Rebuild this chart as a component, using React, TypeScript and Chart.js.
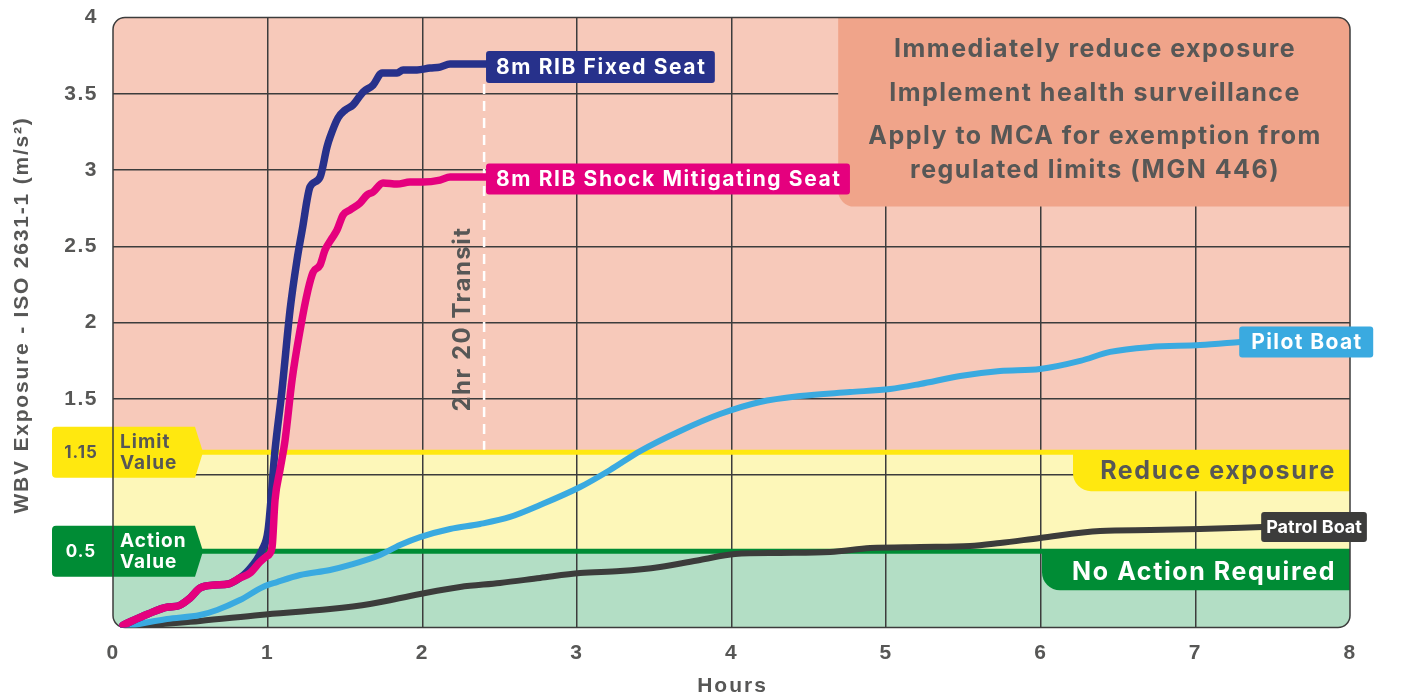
import React, { useEffect, useRef } from 'react';
import { Chart, registerables } from 'chart.js';

Chart.register(...registerables);

// ---------- data ----------
const xTicks = [0, 1, 2, 3, 4, 5, 6, 7, 8];
const yTickLabels = ['1.5', '2', '2.5', '3', '3.5', '4'];

const LIMIT_VALUE = 1.15;
const ACTION_VALUE = 0.5;
const TRANSIT_HOURS = 2.4;

const shockSeatHours = [0.065, 0.226, 0.356, 0.42, 0.498, 0.563, 0.66, 0.744, 0.821, 0.886, 0.951, 0.996, 1.028, 1.048, 1.08, 1.113, 1.158, 1.21, 1.261, 1.294, 1.339, 1.371, 1.417, 1.449, 1.488, 1.533, 1.598, 1.643, 1.682, 1.746, 1.837, 1.921, 2.005, 2.115, 2.18, 2.419];
const shockSeatExposure = [0.016, 0.089, 0.134, 0.141, 0.193, 0.259, 0.279, 0.285, 0.325, 0.357, 0.43, 0.469, 0.521, 0.836, 1.033, 1.23, 1.623, 1.95, 2.213, 2.33, 2.377, 2.475, 2.554, 2.607, 2.705, 2.738, 2.784, 2.836, 2.856, 2.915, 2.908, 2.921, 2.921, 2.934, 2.954, 2.954];

const fixedSeatHours = [0.065, 0.226, 0.356, 0.42, 0.498, 0.563, 0.66, 0.744, 0.821, 0.866, 0.964, 1.003, 1.048, 1.093, 1.145, 1.19, 1.229, 1.255, 1.274, 1.339, 1.384, 1.404, 1.455, 1.501, 1.552, 1.617, 1.682, 1.74, 1.837, 1.876, 1.966, 2.05, 2.115, 2.18, 2.419];
const fixedSeatExposure = [0.016, 0.089, 0.134, 0.141, 0.193, 0.259, 0.279, 0.285, 0.325, 0.364, 0.508, 0.639, 1.164, 1.557, 2.082, 2.41, 2.639, 2.803, 2.889, 2.954, 3.151, 3.216, 3.341, 3.393, 3.426, 3.511, 3.557, 3.636, 3.636, 3.656, 3.656, 3.669, 3.675, 3.695, 3.695];

const pilotHours = [0.065, 0.349, 0.563, 0.673, 0.821, 0.97, 1.061, 1.21, 1.404, 1.533, 1.727, 1.856, 1.986, 2.18, 2.374, 2.568, 2.762, 3.021, 3.215, 3.409, 3.668, 3.926, 4.185, 4.444, 4.767, 5.026, 5.22, 5.479, 5.737, 5.996, 6.255, 6.449, 6.708, 7.031, 7.29];
const pilotExposure = [0.003, 0.056, 0.082, 0.115, 0.18, 0.266, 0.298, 0.344, 0.377, 0.41, 0.475, 0.541, 0.593, 0.646, 0.679, 0.725, 0.803, 0.921, 1.033, 1.157, 1.289, 1.4, 1.479, 1.518, 1.544, 1.564, 1.597, 1.649, 1.682, 1.695, 1.748, 1.807, 1.839, 1.852, 1.872];

const patrolHours = [0.065, 0.563, 0.951, 1.404, 1.662, 1.986, 2.245, 2.503, 2.762, 3.021, 3.28, 3.538, 3.797, 4.023, 4.314, 4.638, 4.897, 5.22, 5.543, 5.737, 5.996, 6.384, 6.708, 7.031, 7.432];
const patrolExposure = [0.003, 0.043, 0.082, 0.121, 0.154, 0.22, 0.266, 0.292, 0.325, 0.357, 0.37, 0.397, 0.443, 0.482, 0.489, 0.495, 0.521, 0.528, 0.534, 0.554, 0.587, 0.633, 0.639, 0.646, 0.659];

const seriesNames = ['8m RIB Shock Mitigating Seat', '8m RIB Fixed Seat', 'Pilot Boat', 'Patrol Boat'];

const boxLines = ['Immediately reduce exposure', 'Implement health surveillance', 'Apply to MCA for exemption from', 'regulated limits (MGN 446)'];

// ---------- styles ----------
const GRAY = '#575756';
const PINK_BAND = '#F7C9BA';
const YELLOW_BAND = '#FDF7B9';
const GREEN_BAND = '#B3DEC5';
const BOX = '#F0A48A';
const YELLOW = '#FFE80F';
const GREEN = '#008C35';
const NAVY = '#27318B';
const MAGENTA = '#E5007E';
const BLUE = '#3AAAE0';
const DARK = '#3C3C3B';
const LABEL_FONT = 'Inter, "Noto Sans", sans-serif';
const AXIS_FONT = '"Liberation Sans", Arial, sans-serif';

const toPoints = (xs: number[], ys: number[]) => xs.map((x, i) => ({ x, y: ys[i] }));

const seriesStyle = [
  { color: MAGENTA, width: 7.5, fontSize: 21, padX: 10, h: 31, ls: 1.6, dy: 2 },
  { color: NAVY, width: 7.5, fontSize: 21, padX: 10, h: 32, ls: 1.6, dy: 3 },
  { color: BLUE, width: 6, fontSize: 21, padX: 12, h: 31, ls: 1.4, dy: 0 },
  { color: DARK, width: 6, fontSize: 18, padX: 5, h: 30, ls: 0, dy: 0 },
];

const decorPlugin = {
  id: 'decor',
  beforeDraw(chart: any) {
    const { ctx, chartArea } = chart;
    // tracking applied to the library's own tick labels too
    ctx.letterSpacing = '1.5px';
    const { left, right, top, bottom } = chartArea;
    const y = chart.scales.y;
    const yL = y.getPixelForValue(LIMIT_VALUE);
    const yA = y.getPixelForValue(ACTION_VALUE);
    ctx.save();
    ctx.beginPath();
    ctx.roundRect(left, top, right - left, bottom - top, 12);
    ctx.clip();
    ctx.fillStyle = PINK_BAND;
    ctx.fillRect(left, top, right - left, yL - top);
    ctx.fillStyle = YELLOW_BAND;
    ctx.fillRect(left, yL, right - left, yA - yL);
    ctx.fillStyle = GREEN_BAND;
    ctx.fillRect(left, yA, right - left, bottom - yA);
    ctx.restore();
  },
  beforeDatasetsDraw(chart: any) {
    const { ctx, chartArea } = chart;
    const { left, right, top, bottom } = chartArea;
    const x = chart.scales.x;
    const y = chart.scales.y;
    const yL = y.getPixelForValue(LIMIT_VALUE);
    const yA = y.getPixelForValue(ACTION_VALUE);
    ctx.save();

    // top-right advice box
    const bx = x.getPixelForValue(4.69);
    const by = y.getPixelForValue(2.76);
    ctx.fillStyle = BOX;
    ctx.beginPath();
    ctx.roundRect(bx, top, right - bx, by - top, [0, 12, 0, 16]);
    ctx.fill();
    ctx.fillStyle = GRAY;
    ctx.font = `bold 25px ${LABEL_FONT}`;
    ctx.letterSpacing = '1.5px';
    ctx.textAlign = 'center';
    ctx.textBaseline = 'middle';
    const cx = (bx + right) / 2 + 1;
    const lineYs = [49, 93, 136, 170];
    boxLines.forEach((t, i) => ctx.fillText(t, cx, lineYs[i]));

    // threshold lines
    ctx.lineWidth = 5;
    ctx.strokeStyle = YELLOW;
    ctx.beginPath();
    ctx.moveTo(200, yL);
    ctx.lineTo(right, yL);
    ctx.stroke();
    ctx.strokeStyle = GREEN;
    ctx.beginPath();
    ctx.moveTo(200, yA);
    ctx.lineTo(right, yA);
    ctx.stroke();

    // right badges
    ctx.fillStyle = YELLOW;
    ctx.beginPath();
    ctx.roundRect(1073, yL - 2, right - 1073, 41, [0, 0, 0, 18]);
    ctx.fill();
    ctx.fillStyle = GREEN;
    ctx.beginPath();
    ctx.roundRect(1042, yA - 2, right - 1042, 41, [0, 0, 0, 18]);
    ctx.fill();
    ctx.font = `bold 25px ${LABEL_FONT}`;
    ctx.letterSpacing = '1.6px';
    ctx.textAlign = 'right';
    ctx.fillStyle = GRAY;
    ctx.fillText('Reduce exposure', 1336, yL + 19);
    ctx.fillStyle = '#ffffff';
    ctx.fillText('No Action Required', 1336, yA + 21);

    // left badges
    const badge = (cy: number, fill: string, txt: string, l1: string, l2: string, tc: string) => {
      ctx.fillStyle = fill;
      ctx.beginPath();
      ctx.moveTo(56, cy - 25.5);
      ctx.lineTo(195, cy - 25.5);
      ctx.lineTo(203, cy);
      ctx.lineTo(195, cy + 25.5);
      ctx.lineTo(56, cy + 25.5);
      ctx.quadraticCurveTo(52, cy + 25.5, 52, cy + 21.5);
      ctx.lineTo(52, cy - 21.5);
      ctx.quadraticCurveTo(52, cy - 25.5, 56, cy - 25.5);
      ctx.fill();
      ctx.fillStyle = tc;
      ctx.letterSpacing = '1px';
      ctx.textAlign = 'center';
      ctx.font = `bold 17px ${LABEL_FONT}`;
      ctx.fillText(txt, 81, cy + 1);
      ctx.textAlign = 'left';
      ctx.font = `bold 19px ${LABEL_FONT}`;
      ctx.fillText(l1, 120, cy - 10);
      ctx.fillText(l2, 120, cy + 11);
    };
    badge(yL, YELLOW, '1.15', 'Limit', 'Value', GRAY);
    badge(yA, GREEN, '0.5', 'Action', 'Value', '#ffffff');

    // transit marker
    const tx = x.getPixelForValue(TRANSIT_HOURS);
    ctx.strokeStyle = '#ffffff';
    ctx.lineWidth = 2.5;
    ctx.setLineDash([10, 7]);
    ctx.beginPath();
    ctx.moveTo(tx, 84);
    ctx.lineTo(tx, yL - 2.5);
    ctx.stroke();
    ctx.setLineDash([]);
    ctx.save();
    ctx.translate(463, 319);
    ctx.rotate(-Math.PI / 2);
    ctx.fillStyle = GRAY;
    ctx.font = `bold 24px ${LABEL_FONT}`;
    ctx.letterSpacing = '1.5px';
    ctx.textAlign = 'center';
    ctx.textBaseline = 'middle';
    ctx.fillText('2hr 20 Transit', 0, 0);
    ctx.restore();

    // plot border
    ctx.strokeStyle = '#3c3c3c';
    ctx.lineWidth = 1.5;
    ctx.beginPath();
    ctx.roundRect(left, top, right - left, bottom - top, 12);
    ctx.stroke();

    // axis titles
    ctx.fillStyle = GRAY;
    ctx.textAlign = 'center';
    ctx.textBaseline = 'middle';
    ctx.font = `bold 21px ${AXIS_FONT}`;
    ctx.letterSpacing = '2px';
    ctx.fillText('Hours', (left + right) / 2 + 1, 686);
    ctx.save();
    ctx.translate(22, 315);
    ctx.rotate(-Math.PI / 2);
    ctx.font = `bold 21px ${AXIS_FONT}`;
    ctx.letterSpacing = '1.8px';
    ctx.fillText('WBV Exposure - ISO 2631-1 (m/s²)', 0, 0);
    ctx.restore();

    ctx.restore();
  },
  afterDatasetsDraw(chart: any) {
    const { ctx } = chart;
    ctx.save();
    chart.data.datasets.forEach((ds: any, i: number) => {
      const st = seriesStyle[i];
      const last = ds.data[ds.data.length - 1];
      const px = chart.scales.x.getPixelForValue(last.x);
      const py = chart.scales.y.getPixelForValue(last.y) + st.dy;
      ctx.font = `bold ${st.fontSize}px ${LABEL_FONT}`;
      ctx.letterSpacing = `${st.ls}px`;
      const w = ctx.measureText(ds.label).width - st.ls + st.padX * 2;
      ctx.fillStyle = st.color;
      ctx.beginPath();
      ctx.roundRect(px - 1, py - st.h / 2, w, st.h, 3);
      ctx.fill();
      ctx.fillStyle = '#ffffff';
      ctx.textAlign = 'left';
      ctx.textBaseline = 'middle';
      ctx.fillText(ds.label, px - 1 + st.padX, py + 1);
    });
    ctx.restore();
  },
};

export default function App() {
  const canvasRef = useRef<HTMLCanvasElement | null>(null);

  useEffect(() => {
    if (!canvasRef.current) return;
    const seriesData = [
      toPoints(shockSeatHours, shockSeatExposure),
      toPoints(fixedSeatHours, fixedSeatExposure),
      toPoints(pilotHours, pilotExposure),
      toPoints(patrolHours, patrolExposure),
    ];
    const chart = new Chart(canvasRef.current, {
      type: 'line',
      data: {
        datasets: seriesData.map((d, i) => ({
          label: seriesNames[i],
          data: d,
          borderColor: seriesStyle[i].color,
          borderWidth: seriesStyle[i].width,
          pointRadius: 0,
          cubicInterpolationMode: 'monotone' as const,
          borderCapStyle: 'round' as const,
          borderJoinStyle: 'round' as const,
          fill: false,
        })),
      },
      options: {
        animation: false,
        responsive: false,
        maintainAspectRatio: false,
        layout: { padding: { left: 0, right: 57, top: 17.5, bottom: 0 } },
        plugins: { legend: { display: false }, tooltip: { enabled: false }, title: { display: false } },
        scales: {
          x: {
            type: 'linear',
            min: 0,
            max: 8,
            afterFit: (s: any) => { s.height = 67.5; s.paddingLeft = 0; s.paddingRight = 0; },
            afterBuildTicks: (s: any) => { s.ticks = xTicks.map((v) => ({ value: v })); },
            border: { display: false },
            grid: {
              drawTicks: false,
              lineWidth: 1.5,
              color: (c: any) => (c.tick && (c.tick.value === 0 || c.tick.value === 8) ? 'rgba(0,0,0,0)' : '#3c3c3c'),
            },
            ticks: {
              padding: 13,
              color: GRAY,
              font: { family: AXIS_FONT, size: 21, weight: 'bold' },
              callback: (v: any) => String(v),
            },
          },
          y: {
            type: 'linear',
            min: 0,
            max: 4,
            afterFit: (s: any) => { s.width = 113; s.paddingTop = 0; s.paddingBottom = 0; },
            border: { display: false },
            grid: {
              drawTicks: false,
              lineWidth: 1.5,
              color: (c: any) => (c.tick && (c.tick.value === 0 || c.tick.value === 4) ? 'rgba(0,0,0,0)' : '#3c3c3c'),
            },
            ticks: {
              stepSize: 0.5,
              padding: 15,
              color: GRAY,
              font: { family: AXIS_FONT, size: 21, weight: 'bold' },
              callback: (v: any) => (yTickLabels.includes(String(v)) ? String(v) : ''),
            },
          },
        },
      } as any,
      plugins: [decorPlugin],
    });
    return () => chart.destroy();
  }, []);

  return (
    <div style={{ position: 'fixed', left: 0, top: 0, width: 1407, height: 695, background: '#ffffff' }}>
      <canvas ref={canvasRef} width={1407} height={695} style={{ width: 1407, height: 695, display: 'block' }} />
    </div>
  );
}
